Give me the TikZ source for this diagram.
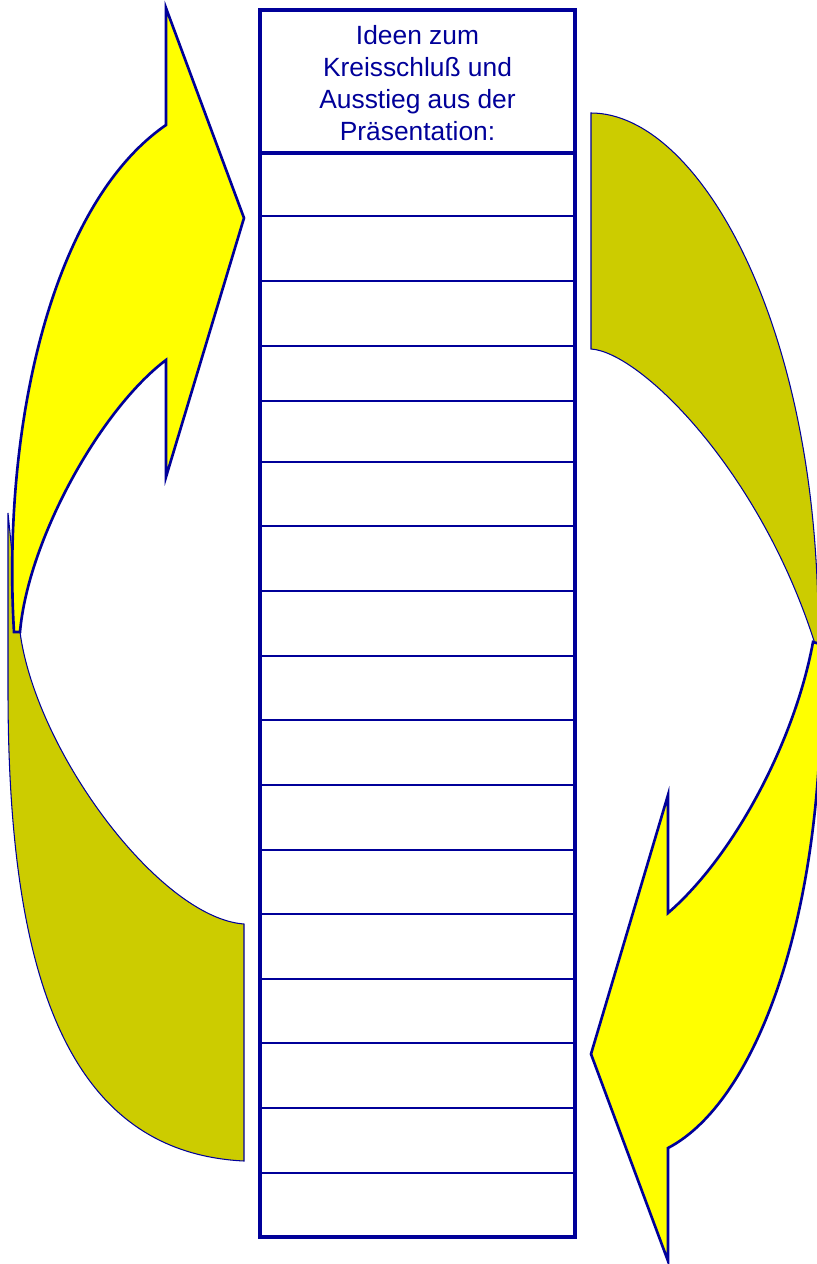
\documentclass[tikz,border=0pt]{standalone}
\usepackage{fontspec}
\setmainfont{Liberation Sans}
\usepackage{xcolor}
\definecolor{frameBlue}{RGB}{0, 0, 153}
\definecolor{arrowFront}{RGB}{255, 255, 0}
\definecolor{arrowBack}{RGB}{204, 204, 0}

\begin{document}
\begin{tikzpicture}[
  x=0.02cm, y=-0.02cm,
  front/.style={fill=arrowFront, draw=frameBlue, line width=1.5pt, line join=miter},
  back/.style={fill=arrowBack, draw=frameBlue, line width=0.6pt},
  row/.style={draw=frameBlue, line width=1.3pt}
]
  \useasboundingbox (0,0) rectangle (817,1264);
  \clip (0,0) rectangle (817,1264);

  % Back sides of the ribbons (olive)
  \path[back] (8,513) -- (8,690) .. controls (8,960) and (60,1152) .. (244,1161)
    -- (244,924) .. controls (160,918) and (36,752) .. (20,632) -- cycle;
  \path[back] (591,113) .. controls (700,113) and (822,330) .. (818,644)
    -- (815,644) .. controls (760,470) and (640,352) .. (591,349) -- cycle;
  % Front sides with heads (yellow)
  \path[front] (166,125) -- (166,8) -- (244,218) -- (166,477) -- (166,360)
    .. controls (100,410) and (28,540) .. (20,632) -- (14,632)
    .. controls (2,430) and (50,205) .. (166,125) -- cycle;
  \path[front] (668,913) -- (668,795) -- (591,1054) -- (668,1261) -- (668,1148)
    .. controls (760,1100) and (830,900) .. (820,644) -- (813,642)
    .. controls (795,740) and (735,855) .. (668,913) -- cycle;

  % List with header
  \foreach \y in {216,281,346,401,462,526,591,656,720,785,850,914,979,1043,1108,1173}
    \draw[row] (260,\y) -- (575,\y);
  \draw[frameBlue, line width=2.6pt] (260,153) -- (575,153);
  \draw[frameBlue, line width=2.2pt] (260,10) rectangle (575,1237);
  \node[text=frameBlue, align=center, font=\fontsize{15}{18.1}\selectfont] (title) at (417.5,83)
    {Ideen zum\\Kreisschluß und\\Ausstieg aus der\\Präsentation:};
\end{tikzpicture}
\end{document}
